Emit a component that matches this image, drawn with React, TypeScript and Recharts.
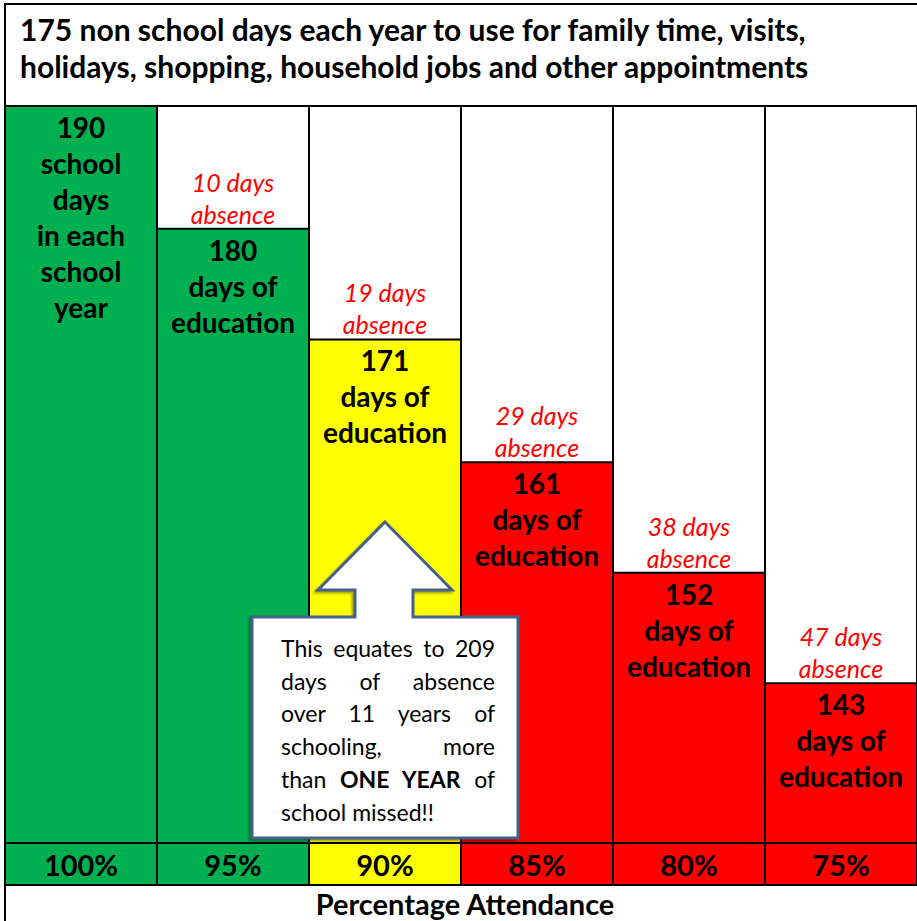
import React from "react"
import { BarChart, Bar, XAxis, YAxis, Cell, LabelList } from "recharts"

const attendance = ["100%", "95%", "90%", "85%", "80%", "75%"]
const educationDays = [190, 180, 171, 161, 152, 143]
const absenceDays = [0, 10, 19, 29, 38, 47]
const firstColumnLines = ["190", "school", "days", "in each", "school", "year"]
const titleLines = [
  "175 non school days each year to use for family time, visits,",
  "holidays, shopping, household jobs and other appointments",
]
const calloutLines = [
  "This equates to 209",
  "days of absence",
  "over 11 years of",
  "schooling, more",
  "than |ONE YEAR| of",
  "school missed!!",
]

const W = 917
const H = 921
const LEFT = 5
const TOP = 106
const BOTTOM_AXIS = 78
const BAND = (W - LEFT) / attendance.length
const FONT = "Lato, Carlito, Calibri, sans-serif"

const GREEN = "#00B050"
const YELLOW = "#FFFF00"
const RED = "#FF0000"

const colorFor = (pct: string) => {
  const p = parseInt(pct)
  if (p >= 95) return GREEN
  if (p >= 90) return YELLOW
  return RED
}

const data = attendance.map((pct, i) => ({
  pct,
  days: educationDays[i],
  absence: absenceDays[i],
}))

const findIndex = (props: any) => {
  if (typeof props.index === "number") return props.index
  return educationDays.indexOf(Number(props.value))
}

const InsideLabel = (props: any) => {
  const i = findIndex(props)
  const { x, y, width } = props
  const lines = i === 0 ? firstColumnLines : [String(educationDays[i]), "days of", "education"]
  const cx = x + width / 2
  return (
    <g>
      {lines.map((t, k) => (
        <text
          key={k}
          x={cx}
          y={y + 21 + k * 36}
          textAnchor="middle"
          dominantBaseline="central"
          fontFamily={FONT}
          fontWeight={700}
          fontSize={28}
          fill="#000"
        >
          {t}
        </text>
      ))}
    </g>
  )
}

const AbsenceLabel = (props: any) => {
  const i = findIndex(props)
  if (i <= 0 || !absenceDays[i]) return null
  const { x, y, width } = props
  const cx = x + width / 2
  return (
    <g>
      {[`${absenceDays[i]} days`, "absence"].map((t, k) => (
        <text
          key={k}
          x={cx}
          y={y - 47 + k * 32}
          textAnchor="middle"
          dominantBaseline="central"
          fontFamily={FONT}
          fontStyle="italic"
          fontSize={25}
          fill={RED}
        >
          {t}
        </text>
      ))}
    </g>
  )
}

const CellTick = (props: any) => {
  const { x, y, payload } = props
  return (
    <g>
      <rect
        x={x - BAND / 2}
        y={y}
        width={BAND}
        height={42}
        fill={colorFor(payload.value)}
        stroke="#000"
        strokeWidth={2}
      />
      <text
        x={x}
        y={y + 21}
        textAnchor="middle"
        dominantBaseline="central"
        fontFamily={FONT}
        fontWeight={700}
        fontSize={29}
        fill="#000"
      >
        {payload.value}
      </text>
    </g>
  )
}

const AxisTitle = (props: any) => {
  const vb = props.viewBox || { x: LEFT, y: H - BOTTOM_AXIS, width: W - LEFT, height: BOTTOM_AXIS }
  return (
    <text
      x={vb.x + vb.width / 2 + 4}
      y={vb.y + vb.height - 18}
      textAnchor="middle"
      dominantBaseline="central"
      fontFamily={FONT}
      fontWeight={700}
      fontSize={29}
      fill="#000"
    >
      Percentage Attendance
    </text>
  )
}

function Callout() {
  // arrow callout pointing at the 90% column
  const cx = LEFT + BAND * 2.5
  const tipY = 522
  const headY = 590
  const boxTop = 617
  const boxBottom = 838
  const pts = [
    [cx, tipY],
    [cx + 67, headY],
    [cx + 28, headY],
    [cx + 28, boxTop],
    [cx + 133, boxTop],
    [cx + 133, boxBottom],
    [cx - 133, boxBottom],
    [cx - 133, boxTop],
    [cx - 30, boxTop],
    [cx - 30, headY],
    [cx - 67, headY],
  ]
  return (
    <>
      <svg width={W} height={H} style={{ position: "absolute", left: 0, top: 0 }}>
        <polygon
          points={pts.map((p) => p.join(",")).join(" ")}
          fill="#fff"
          stroke="#44618C"
          strokeWidth={3}
          strokeLinejoin="miter"
          style={{ filter: "drop-shadow(-2px 2px 1px rgba(0,0,0,0.35))" }}
        />
      </svg>
      <div
        style={{
          position: "absolute",
          left: cx - 104,
          top: boxTop + 15,
          width: 214,
          fontFamily: FONT,
          fontSize: 23,
          lineHeight: "32.7px",
          color: "#000",
        }}
      >
        {calloutLines.map((line, k) => (
          <div
            key={k}
            style={{
              textAlign: "justify",
              textAlignLast: k < calloutLines.length - 1 ? "justify" : "left",
              whiteSpace: "nowrap",
            }}
          >
            {line.split("|").map((part, j) => (j % 2 === 1 ? <b key={j}>{part}</b> : <span key={j}>{part}</span>))}
          </div>
        ))}
      </div>
    </>
  )
}

export default function App() {
  return (
    <div style={{ position: "absolute", left: 0, top: 0, width: W, height: H, background: "#fff", overflow: "hidden" }}>
      <div
        style={{
          position: "absolute",
          left: 4,
          top: 3,
          width: W,
          height: H,
          borderLeft: "2px solid #000",
          borderTop: "2px solid #000",
        }}
      />
      <div
        style={{
          position: "absolute",
          left: 20,
          top: 11,
          fontFamily: FONT,
          fontWeight: 700,
          fontSize: 30,
          lineHeight: "37px",
          color: "#000",
          whiteSpace: "nowrap",
        }}
      >
        {titleLines.map((t, k) => (
          <div key={k}>{t}</div>
        ))}
      </div>
      <div style={{ position: "absolute", left: 0, top: 0 }}>
        <BarChart
          width={W}
          height={H}
          data={data}
          margin={{ top: TOP, right: 0, bottom: 0, left: LEFT }}
          barCategoryGap={0}
          barGap={0}
        >
          <XAxis
            dataKey="pct"
            height={BOTTOM_AXIS}
            axisLine={false}
            tickLine={false}
            tickSize={0}
            tickMargin={0}
            interval={0}
            tick={<CellTick />}
            label={<AxisTitle />}
          />
          <YAxis hide type="number" domain={[130, 190]} />
          <Bar
            dataKey="days"
            isAnimationActive={false}
            background={{ fill: "#fff", stroke: "#000", strokeWidth: 2 }}
            stroke="#000"
            strokeWidth={2}
          >
            {data.map((d, i) => (
              <Cell key={i} fill={colorFor(d.pct)} stroke="#000" strokeWidth={2} />
            ))}
            <LabelList dataKey="days" content={<InsideLabel />} />
            <LabelList dataKey="days" content={<AbsenceLabel />} />
          </Bar>
        </BarChart>
      </div>
      <Callout />
    </div>
  )
}
